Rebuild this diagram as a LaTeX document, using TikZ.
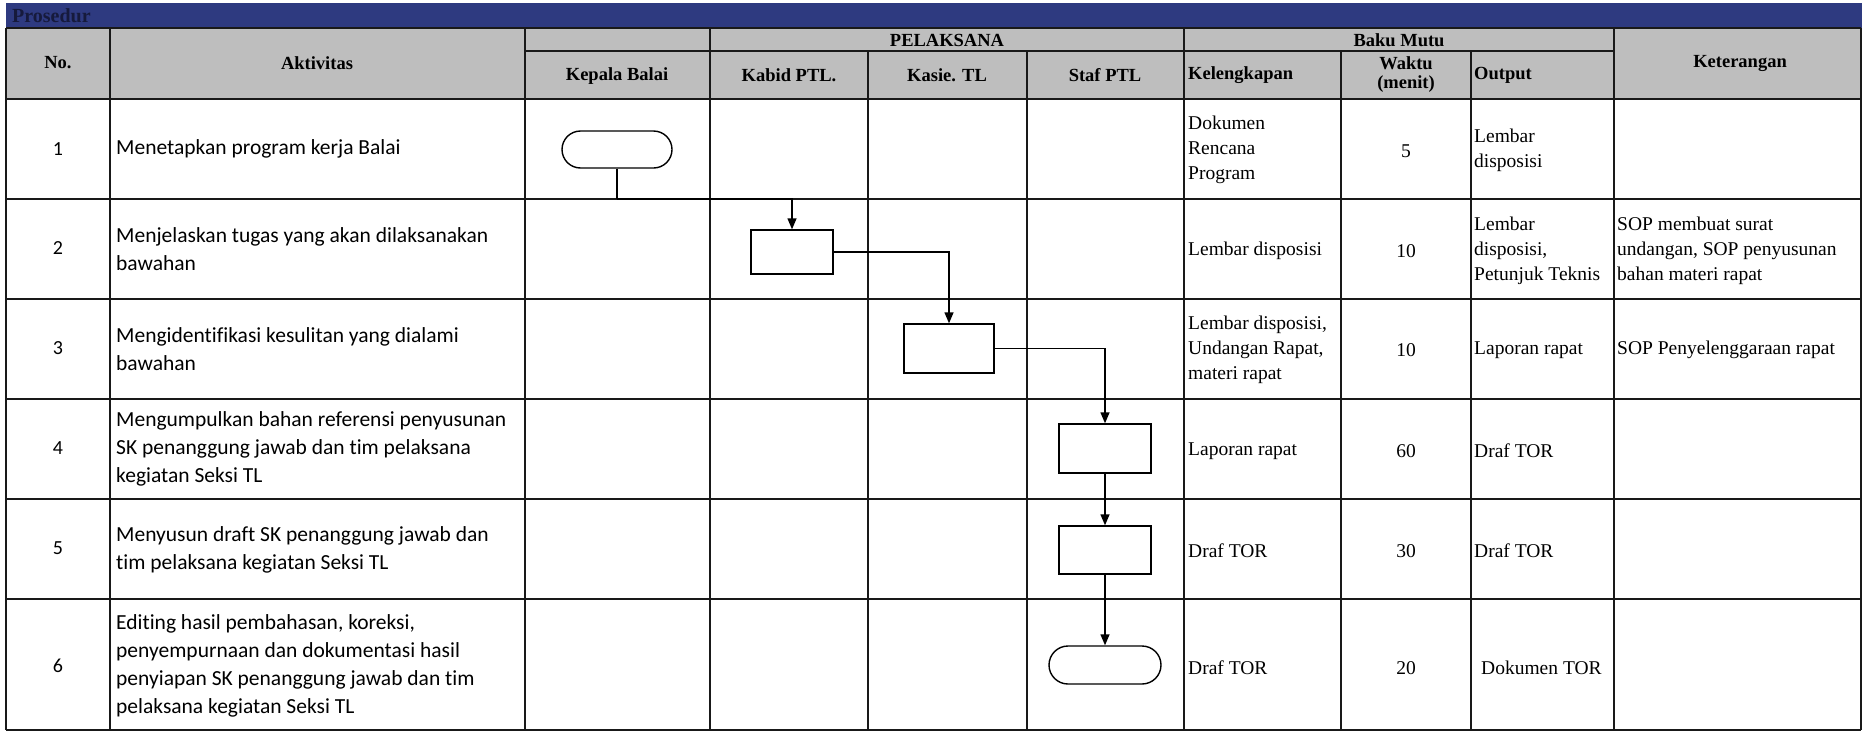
\documentclass[tikz,border=0pt]{standalone}
\usepackage{fontspec}
\setmainfont{Liberation Serif}
\newfontfamily\calib[Ligatures={NoCommon}]{Carlito}
\usetikzlibrary{arrows.meta,shapes.misc}
\definecolor{bandblue}{RGB}{46,58,128}
\definecolor{headgray}{RGB}{190,190,190}
\definecolor{prosink}{RGB}{22,26,60}
\begin{document}
\begin{tikzpicture}[x=1pt,y=-1pt,
  grid/.style={line width=1.6pt, draw=black!90},
  hdr/.style={font=\bfseries\fontsize{18.5}{19}\selectfont, inner sep=0pt, align=center},
  akt/.style={font=\calib\fontsize{21.5}{28}\selectfont, anchor=west, align=left, inner sep=0pt},
  num/.style={font=\calib\fontsize{20}{24}\selectfont, inner sep=0pt},
  cell/.style={font=\fontsize{19.5}{25}\selectfont, anchor=west, align=left, inner sep=0pt},
  ctr/.style={font=\fontsize{19.5}{25}\selectfont, inner sep=0pt},
  proc/.style={draw, line width=1.4pt, rectangle, inner sep=0pt},
  term/.style={draw, line width=1.4pt, rounded rectangle, inner sep=0pt, minimum width=110pt, minimum height=37pt},
  flow/.style={line width=1.4pt, -{Triangle[width=9pt,length=11pt]}},
  link/.style={line width=1.4pt}
]
\useasboundingbox (0,0) rectangle (1862,731);
% band and header
\fill[bandblue] (6,3) rectangle (1862,28);
\fill[headgray] (6,28) rectangle (1862,99);
% horizontal grid lines
\foreach \yy in {28,99,199,299,399,499,599,730}
  \draw[grid] (6,\yy) -- (1861,\yy);
\draw[grid] (525,51) -- (1614,51);
% vertical grid lines (full height)
\foreach \xx in {6,110,525,710,1184,1614,1861}
  \draw[grid] (\xx,28) -- (\xx,730);
% vertical grid lines (below the split)
\foreach \xx in {868,1027,1341,1471}
  \draw[grid] (\xx,51) -- (\xx,730);

% title in the band
\node[font=\bfseries\fontsize{20}{20}\selectfont, text=prosink, anchor=west, inner sep=0pt] (pros) at (12,16) {Prosedur};

% headers
\node[hdr] (hNo) at (58,63) {No.};
\node[hdr] (hAkt) at (317,63) {Aktivitas};
\node[hdr] (hPel) at (947,40) {PELAKSANA};
\node[hdr] (hKep) at (617,76) {Kepala Balai};
\node[hdr] (hKab) at (789,75) {Kabid PTL.};
\node[hdr] (hKas) at (947,75) {Kasie. TL};
\node[hdr] (hStaf) at (1105,75) {Staf PTL};
\node[hdr] (hBaku) at (1399,40) {Baku Mutu};
\node[hdr,anchor=west] (hKel) at (1188,75) {Kelengkapan};
\node[hdr] (hWak) at (1406,75) {Waktu\\(menit)};
\node[hdr,anchor=west] (hOut) at (1474,75) {Output};
\node[hdr] (hKet) at (1740,63) {Keterangan};

% row 1
\node[num] (n1) at (58,149) {1};
\node[akt] (a1) at (116,149) {Menetapkan program kerja Balai};
\node[cell] (k1) at (1188,150) {Dokumen\\Rencana\\Program};
\node[ctr] (w1) at (1406,151) {5};
\node[cell] (o1) at (1474,150) {Lembar\\disposisi};
% row 2
\node[num] (n2) at (58,248) {2};
\node[akt] (a2) at (116,249) {Menjelaskan tugas yang akan dilaksanakan\\bawahan};
\node[cell] (k2) at (1188,251) {Lembar disposisi};
\node[ctr] (w2) at (1406,251) {10};
\node[cell] (o2) at (1474,251) {Lembar\\disposisi,\\Petunjuk Teknis};
\node[cell] (ket2) at (1617,251) {SOP membuat surat\\undangan, SOP penyusunan\\bahan materi rapat};
% row 3
\node[num] (n3) at (58,348) {3};
\node[akt] (a3) at (116,349) {Mengidentifikasi kesulitan yang dialami\\bawahan};
\node[cell] (k3) at (1188,350) {Lembar disposisi,\\Undangan Rapat,\\materi rapat};
\node[ctr] (w3) at (1406,350) {10};
\node[cell] (o3) at (1474,350) {Laporan rapat};
\node[cell] (ket3) at (1617,350) {SOP Penyelenggaraan rapat};
% row 4
\node[num] (n4) at (58,448) {4};
\node[akt] (a4) at (116,449) {Mengumpulkan bahan referensi penyusunan\\SK penanggung jawab dan tim pelaksana\\kegiatan Seksi TL};
\node[cell] (k4) at (1188,451) {Laporan rapat};
\node[ctr] (w4) at (1406,451) {60};
\node[cell] (o4) at (1474,451) {Draf TOR};
% row 5
\node[num] (n5) at (58,548) {5};
\node[akt] (a5) at (116,550) {Menyusun draft SK penanggung jawab dan\\tim pelaksana kegiatan Seksi TL};
\node[cell] (k5) at (1188,551) {Draf TOR};
\node[ctr] (w5) at (1406,551) {30};
\node[cell] (o5) at (1474,551) {Draf TOR};
% row 6
\node[num] (n6) at (58,666) {6};
\node[akt] (a6) at (116,666) {Editing hasil pembahasan, koreksi,\\penyempurnaan dan dokumentasi hasil\\penyiapan SK penanggung jawab dan tim\\pelaksana kegiatan Seksi TL};
\node[cell] (k6) at (1188,668) {Draf TOR};
\node[ctr] (w6) at (1406,668) {20};
\node[cell] (o6) at (1481,668) {Dokumen TOR};

% flowchart shapes
\node[term] (t1) at (617,149.5) {};
\node[proc, minimum width=82pt, minimum height=44pt] (b2) at (792,252) {};
\node[proc, minimum width=90pt, minimum height=49pt] (b3) at (949,348.5) {};
\node[proc, minimum width=92pt, minimum height=49pt] (b4) at (1105,448.5) {};
\node[proc, minimum width=92pt, minimum height=48pt] (b5) at (1105,550) {};
\node[term, minimum width=112pt, minimum height=38pt] (t6) at (1105,665) {};

% connectors
\coordinate (j1) at (617,199);
\draw[link] (t1.south) -- (j1);
\draw[flow] (j1) -| (b2.north);
\draw[flow] (b2.east) -| (b3.north);
\draw[flow] (b3.east) -| (b4.north);
\draw[flow] (b4.south) -- (b5.north);
\draw[flow] (b5.south) -- (t6.north);
\end{tikzpicture}
\end{document}
